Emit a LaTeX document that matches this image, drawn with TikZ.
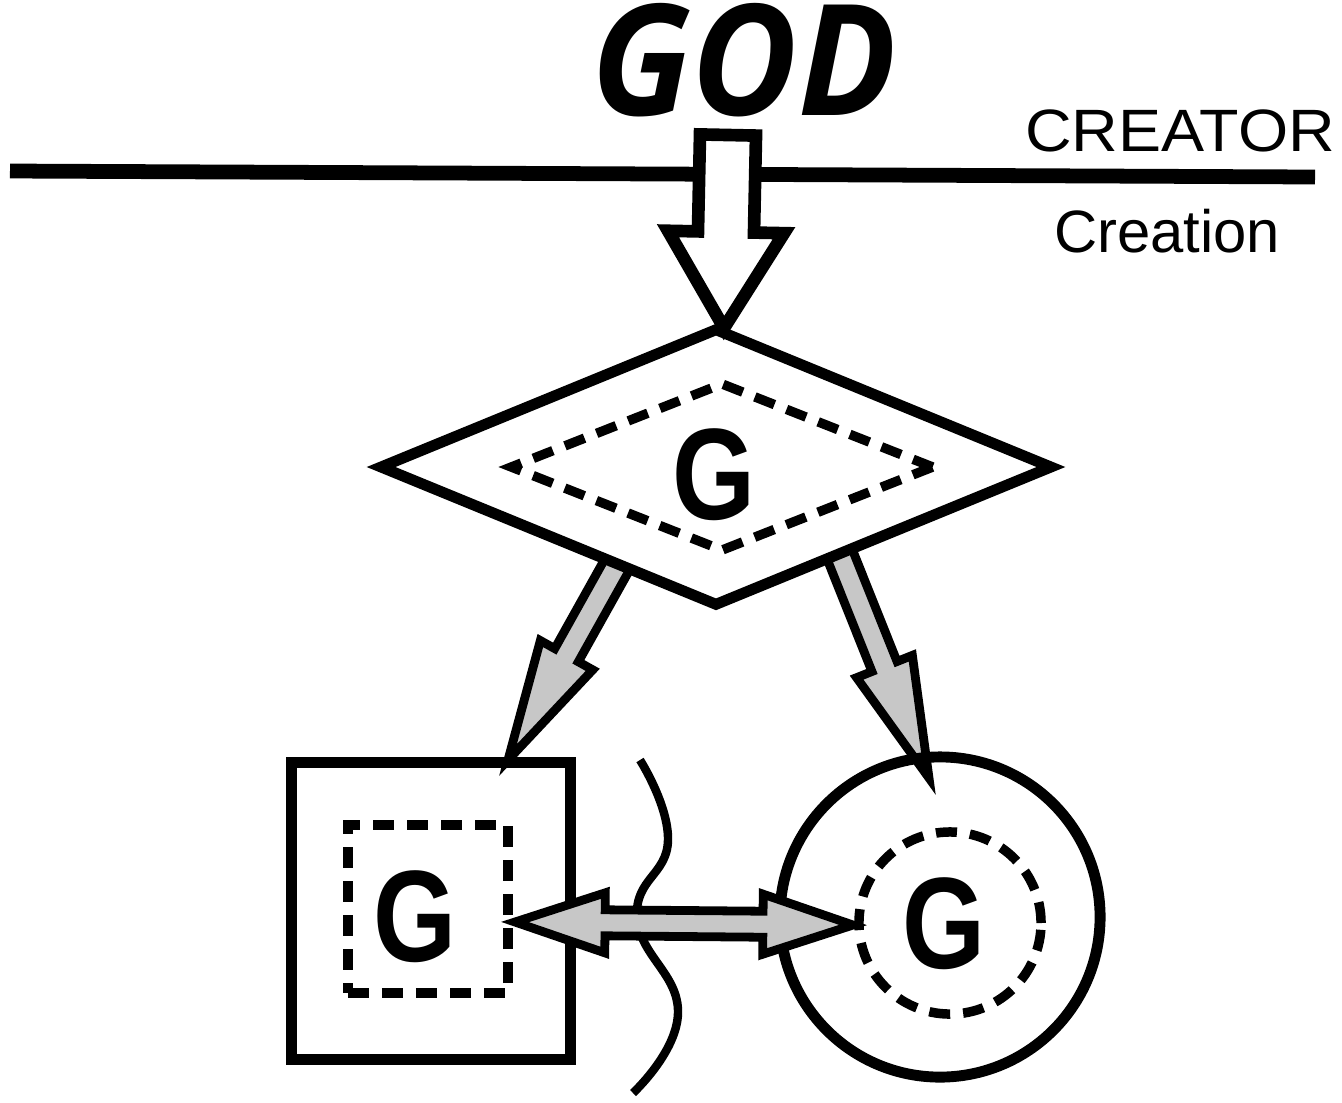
\documentclass[tikz,border=0pt]{standalone}
\usepackage{fontspec}
\setmainfont{Liberation Sans}
\newfontfamily\godfont{Open Sans}
\usetikzlibrary{calc}
\usetikzlibrary{positioning}
\usetikzlibrary{shapes.geometric}
\tikzset{
	outline/.style={
		draw=black,
		line width=3.1pt},
	dashline/.style={
		draw=black,
		line width=2.7pt,
		dash pattern=on 0.21cm off 0.13cm},
	letter/.style={
		font=\fontsize{37pt}{40pt}\selectfont\bfseries,
		xscale=0.82,
		inner sep=0pt},
	label/.style={
		font=\fontsize{17pt}{20pt}\selectfont,
		inner sep=0pt},
	grayarrow/.style={draw=black, line width=2.5pt, fill=black!22},
	bigarrow/.style={draw=black, line width=3.6pt, fill=white},
	divider/.style={draw, line width=4.2pt},
}
% block arrow: style, tail, tip, half shaft, half head, head length
\newcommand\blockarrow[6]{%
	\coordinate (ba-head) at ($(#3)!#6!(#2)$);
	\draw[#1] ($(#2)!#4!90:(#3)$) -- ($(ba-head)!#4!-90:(#2)$) -- ($(ba-head)!#5!-90:(#2)$)
		-- (#3) -- ($(ba-head)!#5!90:(#2)$) -- ($(ba-head)!#4!90:(#2)$) -- ($(#2)!#4!-90:(#3)$) -- cycle;}
% same, with a head at both ends
\newcommand\twinarrow[6]{%
	\coordinate (ta-a) at ($(#2)!#6!(#3)$);
	\coordinate (ta-b) at ($(#3)!#6!(#2)$);
	\draw[#1] (#2) -- ($(ta-a)!#5!90:(#3)$) -- ($(ta-a)!#4!90:(#3)$) -- ($(ta-b)!#4!-90:(#2)$)
		-- ($(ta-b)!#5!-90:(#2)$) -- (#3) -- ($(ta-b)!#5!90:(#2)$) -- ($(ta-b)!#4!90:(#2)$)
		-- ($(ta-a)!#4!-90:(#3)$) -- ($(ta-a)!#5!-90:(#3)$) -- cycle;}

\begin{document}
\begin{tikzpicture}[x=0.01cm,y=-0.01cm]
	\useasboundingbox (0,0) rectangle (1342,1102);
	% creator / creation
	\coordinate (lineL) at (10,171);
	\coordinate (lineR) at (1315,177);
	\draw[divider] (lineL) -- (lineR);
	\node[label, xscale=1.08] (creator) at (1180,131) {CREATOR};
	\node[label] (creation) at (1167,231) {Creation};
	\node[font=\godfont\bfseries\itshape\fontsize{44pt}{48pt}\selectfont, xscale=0.94, inner sep=0pt] (god) at (744,60) {GOD};

	% arrows out of the diamond
	\coordinate (lefttail) at (632,538);
	\coordinate (lefttip) at (508,760);
	\coordinate (righttail) at (834,540);
	\coordinate (righttip) at (929,778);
	\blockarrow{grayarrow}{lefttail}{lefttip}{0.135cm}{0.3cm}{1.2cm}
	\blockarrow{grayarrow}{righttail}{righttip}{0.135cm}{0.3cm}{1.2cm}

	% diamond
	\node[diamond, outline, fill=white, minimum width=6.74cm, minimum height=2.79cm, inner sep=0pt] (dia) at (716,467) {};
	\node[diamond, dashline, minimum width=4.25cm, minimum height=1.7cm, inner sep=0pt] (diain) at (722,467) {};
	\node[letter] (gdia) at (714,475) {G};

	% square
	\node[rectangle, outline, minimum width=2.78cm, minimum height=2.97cm] (sq) at (431,911) {};
	\node[rectangle, dashline, minimum width=1.6cm, minimum height=1.68cm] (sqin) at (428,909) {};
	\node[letter] (gsq) at (415,917) {G};

	% circle
	\node[circle, outline, minimum size=3.2cm] (ring) at (940,917) {};
	\node[circle, dashline, minimum size=1.82cm] (ringin) at (950,923) {};
	\node[letter] (gring) at (944,924) {G};

	% wavy border
	\draw[line width=2.4pt] plot[smooth, tension=0.8] coordinates {(640,760) (668,840) (637,917) (678,1013) (633,1093)};

	% two way arrow
	\coordinate (sqtip) at (515,922);
	\coordinate (ringtip) at (853,925);
	\twinarrow{grayarrow}{sqtip}{ringtip}{0.13cm}{0.3cm}{0.9cm}

	% arrow from GOD
	\coordinate (godtail) at (728,135);
	\coordinate (godtip) at (724,328);
	\blockarrow{bigarrow}{godtail}{godtip}{0.28cm}{0.58cm}{0.96cm}
\end{tikzpicture}
\end{document}
